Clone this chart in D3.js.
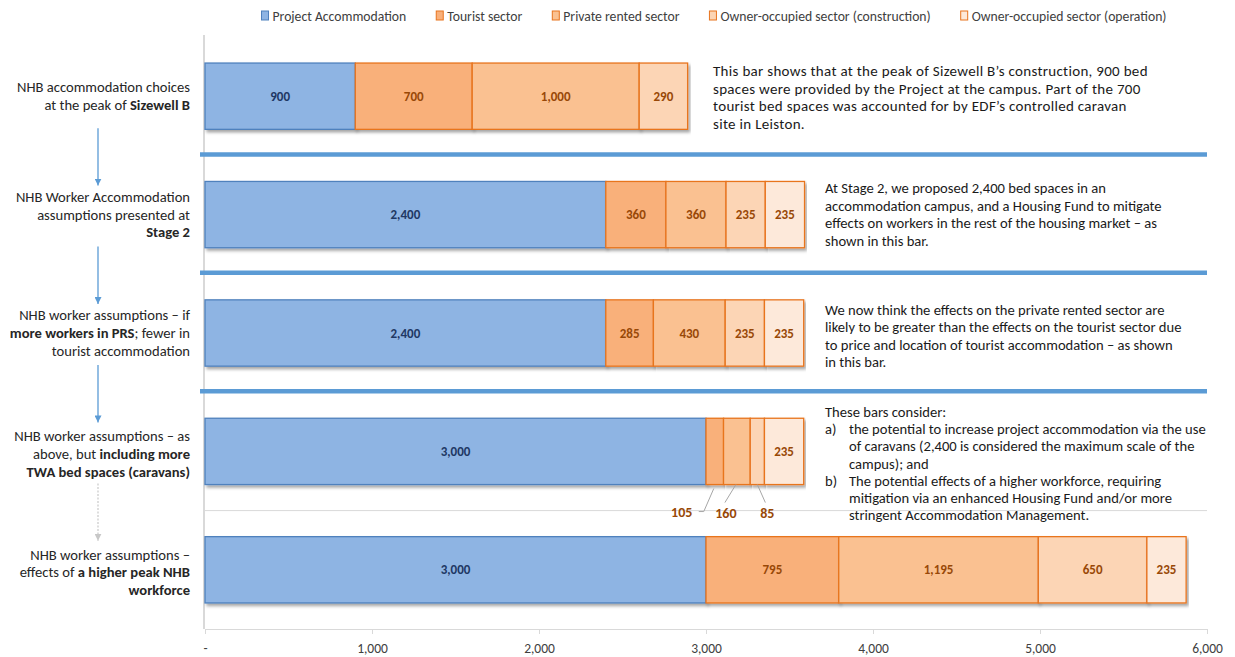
<!DOCTYPE html>
<html>
<head>
<meta charset="utf-8">
<script src="https://cdn.jsdelivr.net/npm/d3@7"></script>
<style>
  html, body { margin: 0; padding: 0; background: #fff; }
  svg { display: block; font-family: Carlito, Lato, "Open Sans", sans-serif; }
</style>
</head>
<body>
<svg id="chart" width="1235" height="657"></svg>
<script>
// ---- data ----
const seriesNames = [
  "Project Accommodation",
  "Tourist sector",
  "Private rented sector",
  "Owner-occupied sector (construction)",
  "Owner-occupied sector (operation)"
];
const projectAccommodation = [900, 2400, 2400, 3000, 3000];
const touristSector        = [700, 360, 285, 105, 795];
const privateRented        = [1000, 360, 430, 160, 1195];
const ownerConstruction    = [290, 235, 235, 85, 650];
const ownerOperation       = [0, 235, 235, 235, 235];

// category labels: each line is a list of [text, bold] runs
const categoryLines = [
  [[["NHB accommodation choices", false]], [["at the peak of ", false], ["Sizewell B", true]]],
  [[["NHB Worker Accommodation", false]], [["assumptions presented at", false]], [["Stage 2", true]]],
  [[["NHB worker assumptions \u2013 if", false]], [["more workers in PRS", true], ["; fewer in", false]], [["tourist accommodation", false]]],
  [[["NHB worker assumptions \u2013 as", false]], [["above, but ", false], ["including more", true]], [["TWA bed spaces (caravans)", true]]],
  [[["NHB worker assumptions \u2013", false]], [["effects of ", false], ["a higher peak NHB", true]], [["workforce", true]]]
];

const xTicks = [0, 1000, 2000, 3000, 4000, 5000, 6000];

// commentary next to each bar; list items are [marker, text]
const notes = [
  { lines: ["This bar shows that at the peak of Sizewell B\u2019s construction, 900 bed",
            "spaces were provided by the Project at the campus. Part of the 700",
            "tourist bed spaces was accounted for by EDF\u2019s controlled caravan",
            "site in Leiston."] },
  { lines: ["At Stage 2, we proposed 2,400 bed spaces in an",
            "accommodation campus, and a Housing Fund to mitigate",
            "effects on workers in the rest of the housing market \u2013 as",
            "shown in this bar."] },
  { lines: ["We now think the effects on the private rented sector are",
            "likely to be greater than the effects on the tourist sector due",
            "to price and location of tourist accommodation \u2013 as shown",
            "in this bar."] },
  { lines: ["These bars consider:",
            ["a)", "the potential to increase project accommodation via the use"],
            ["", "of caravans (2,400 is considered the maximum scale of the"],
            ["", "campus); and"],
            ["b)", "The potential effects of a higher workforce, requiring"],
            ["", "mitigation via an enhanced Housing Fund and/or more"],
            ["", "stringent Accommodation Management."]] }
];

// ---- styling ----
const fills   = ["#8eb4e3", "#f9b07a", "#fac191", "#fcd5b5", "#fde9da"];
const strokes = ["#4f81bd", "#e8741e", "#e8741e", "#e8741e", "#e8741e"];
const labelColors = ["#1f3864", "#984807", "#984807", "#984807", "#984807"];
const FONT = "Carlito, Lato, 'Open Sans', sans-serif";

const svg = d3.select("#chart");

const defs = svg.append("defs");
const shadow = defs.append("filter").attr("id", "shadow")
  .attr("x", "-5%").attr("y", "-20%").attr("width", "110%").attr("height", "150%");
shadow.append("feDropShadow").attr("dx", 2).attr("dy", 2.5).attr("stdDeviation", 1.4)
  .attr("flood-color", "#000").attr("flood-opacity", 0.35);

const x = d3.scaleLinear().domain([0, 6000]).range([205, 1207]);
const y = d3.scaleBand().domain(d3.range(5)).range([37, 629]).paddingInner(0.44).paddingOuter(0.22);

// stacked layout
const rows = d3.range(5).map(i => ({
  i,
  vals: [projectAccommodation[i], touristSector[i], privateRented[i], ownerConstruction[i], ownerOperation[i]]
}));
const stack = d3.stack().keys(d3.range(5)).value((d, k) => d.vals[k]);
const layers = stack(rows);

// plot-area frame: left axis line
svg.append("line")
  .attr("x1", x(0) - 1).attr("x2", x(0) - 1)
  .attr("y1", y.range()[0] - 2).attr("y2", y.range()[1])
  .attr("stroke", "#d9d9d9").attr("stroke-width", 2);

// light separator above the last bar
const sepY = i => y(i) - y.step() * y.paddingInner() / 2;
svg.append("line")
  .attr("x1", x(0)).attr("x2", x(6000))
  .attr("y1", sepY(4)).attr("y2", sepY(4))
  .attr("stroke", "#d9d9d9").attr("stroke-width", 1);

// bars
const barG = svg.append("g");
layers.forEach((layer, k) => {
  layer.forEach((seg, i) => {
    if (seg[1] - seg[0] <= 0) return;
    barG.append("rect")
      .attr("x", x(seg[0])).attr("y", y(i))
      .attr("width", x(seg[1]) - x(seg[0])).attr("height", y.bandwidth())
      .attr("fill", fills[k]).attr("stroke", strokes[k]).attr("stroke-width", 1.3)
      .attr("filter", "url(#shadow)");
  });
});

// blue dividers between the first four bars
[1, 2, 3].forEach(i => {
  const yy = sepY(i) - 1;
  svg.append("line")
    .attr("x1", x(0) - 5).attr("x2", x(6000))
    .attr("y1", yy).attr("y2", yy)
    .attr("stroke", "#5b9bd5").attr("stroke-width", 4.5);
});

// value labels
const fmt = d3.format(",");
const labelG = svg.append("g").attr("font-weight", "bold");
layers.forEach((layer, k) => {
  layer.forEach((seg, i) => {
    const v = seg[1] - seg[0];
    if (v <= 0) return;
    const w = x(seg[1]) - x(seg[0]);
    if (w < 28) return;
    labelG.append("text")
      .attr("x", (x(seg[0]) + x(seg[1])) / 2).attr("y", y(i) + y.bandwidth() / 2)
      .attr("text-anchor", "middle").attr("dominant-baseline", "central")
      .attr("font-size", 13).attr("fill", labelColors[k])
      .text(fmt(v));
  });
});

// narrow segments of the fourth bar: labels below with leader lines
const narrowRow = 3;
const below = y(narrowRow) + y.bandwidth();
const outside = [1, 2, 3].map(k => {
  const seg = layers[k][narrowRow];
  return { k, v: seg[1] - seg[0], cx: (x(seg[0]) + x(seg[1])) / 2 };
});
const outPos = [
  { tx: outside[0].cx - 33, ty: below + 28, path: d => [[d.cx - 1, below + 4], [d.cx - 11, below + 27], [d.cx - 16, below + 27]] },
  { tx: outside[1].cx - 11, ty: below + 29, path: d => [[d.cx - 1, below], [d.cx - 12, below + 18]] },
  { tx: outside[2].cx + 10, ty: below + 29, path: d => [[d.cx, below], [d.cx + 8, below + 18]] }
];
outside.forEach((d, j) => {
  const p = outPos[j];
  svg.append("path")
    .attr("d", d3.line()(p.path(d)))
    .attr("fill", "none").attr("stroke", "#a6a6a6").attr("stroke-width", 1);
  svg.append("text")
    .attr("x", p.tx).attr("y", p.ty)
    .attr("text-anchor", "middle").attr("dominant-baseline", "central")
    .attr("font-size", 14).attr("font-weight", "bold").attr("fill", labelColors[d.k])
    .text(fmt(d.v));
});

// x axis
const axisY = y.range()[1];
const xAxis = d3.axisBottom(x).tickValues(xTicks).tickSize(5)
  .tickFormat(d => d === 0 ? "-" : fmt(d));
const axG = svg.append("g").attr("transform", `translate(0,${axisY})`).call(xAxis);
axG.select(".domain").attr("stroke", "#d9d9d9").attr("stroke-width", 1);
axG.selectAll(".tick line").attr("stroke", "#d9d9d9");
axG.selectAll(".tick text")
  .attr("font-family", FONT)
  .attr("font-size", 13.5).attr("fill", "#404040").attr("dy", "1.15em");

// category labels on the left
const catG = svg.append("g").attr("font-size", 14.6).attr("fill", "#262626");
const lineH = 17.8;
categoryLines.forEach((lines, i) => {
  const c = y(i) + y.bandwidth() / 2 + (i >= 3 ? 2.5 : 0);
  const y0 = c - (lines.length - 1) * lineH / 2;
  lines.forEach((runs, j) => {
    const t = catG.append("text")
      .attr("x", 190).attr("y", y0 + j * lineH)
      .attr("text-anchor", "end").attr("dominant-baseline", "central");
    runs.forEach(([txt, bold]) => {
      t.append("tspan").attr("font-weight", bold ? "bold" : "normal").text(txt);
    });
  });
});

// arrows between category labels
[["arrowBlue", "#5b9bd5"], ["arrowGrey", "#c8c8c8"]].forEach(([id, col]) => {
  defs.append("marker").attr("id", id).attr("viewBox", "0 0 10 10")
    .attr("refX", 10).attr("refY", 5).attr("markerWidth", 7).attr("markerHeight", 7)
    .attr("markerUnits", "userSpaceOnUse").attr("orient", "auto")
    .append("path").attr("d", "M0,0L10,5L0,10Z").attr("fill", col);
});
d3.range(4).forEach(i => {
  const top = y(i) + y.bandwidth() / 2 + 32;
  const bot = y(i + 1) + y.bandwidth() / 2 - 29;
  const last = i === 3;
  svg.append("line")
    .attr("x1", 98).attr("x2", 98).attr("y1", top).attr("y2", bot)
    .attr("stroke", last ? "#c8c8c8" : "#5b9bd5")
    .attr("stroke-width", last ? 1.2 : 1.3)
    .attr("stroke-dasharray", last ? "2,1.5" : null)
    .attr("marker-end", last ? "url(#arrowGrey)" : "url(#arrowBlue)");
});

// commentary text
const noteG = svg.append("g").attr("fill", "#1a1a1a");
const noteX = [713, 825, 825, 825];
const noteTop = [71, 188, 310, 412];
const noteH = [17.5, 17.6, 17.3, 17.2];
const noteSize = [15, 14.6, 14.6, 14.6];
const noteSpacing = [0.3, 0, 0, 0];
notes.forEach((n, i) => {
  const put = (xx, yy, txt) => noteG.append("text").attr("x", xx).attr("y", yy)
    .attr("font-size", noteSize[i]).attr("letter-spacing", noteSpacing[i])
    .attr("dominant-baseline", "central").text(txt);
  n.lines.forEach((ln, j) => {
    const yy = noteTop[i] + j * noteH[i];
    if (Array.isArray(ln)) {
      if (ln[0]) put(noteX[i], yy, ln[0]);
      put(noteX[i] + 24, yy, ln[1]);
    } else {
      put(noteX[i], yy, ln);
    }
  });
});

// legend: flowed left to right, centred over the chart
const legG = svg.append("g").attr("font-size", 13.7).attr("fill", "#404040");
const items = seriesNames.map((name, k) => {
  const g = legG.append("g");
  g.append("rect")
    .attr("x", 0).attr("y", 11).attr("width", 7).attr("height", 9)
    .attr("fill", fills[k]).attr("stroke", strokes[k]).attr("stroke-width", 1);
  const t = g.append("text").attr("x", 11).attr("y", 16)
    .attr("dominant-baseline", "central").text(name);
  return { g, w: 11 + t.node().getComputedTextLength() };
});
const gap = 30;
const total = d3.sum(items, d => d.w) + gap * (items.length - 1);
let lx = 714 - total / 2;
items.forEach(d => { d.g.attr("transform", `translate(${lx},0)`); lx += d.w + gap; });
</script>
</body>
</html>
